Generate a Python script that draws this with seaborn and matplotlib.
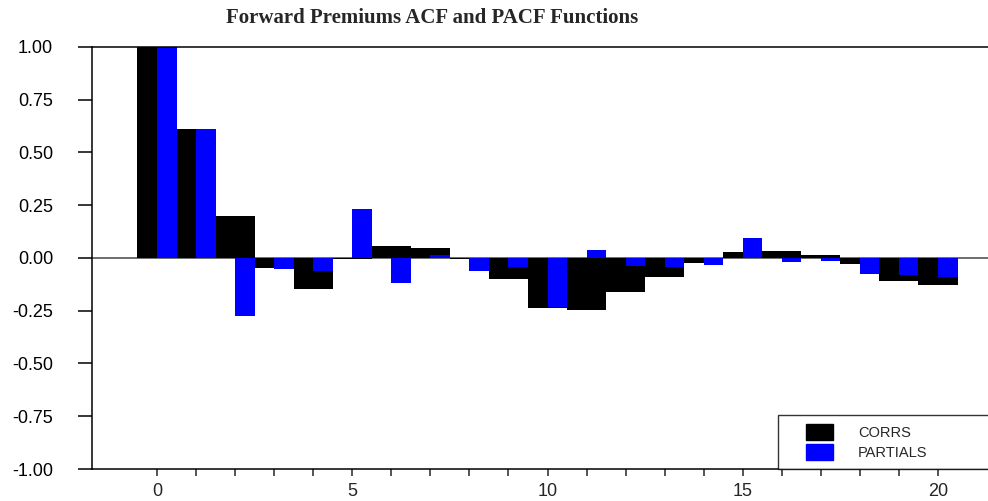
import numpy as np
import pandas as pd
import matplotlib
matplotlib.use("Agg")
import matplotlib.pyplot as plt
import seaborn as sns
from matplotlib.patches import Patch, Rectangle
from matplotlib.legend_handler import HandlerPatch

# lags and correlation values
lags = list(range(21))
corrs = [1.00, 0.61, 0.20, -0.047, -0.147, -0.005, 0.055, 0.047, -0.005, -0.100,
         -0.237, -0.246, -0.161, -0.090, -0.024, 0.028, 0.033, 0.014, -0.028,
         -0.109, -0.128]
partials = [1.00, 0.61, -0.275, -0.052, -0.062, 0.232, -0.120, 0.014, -0.062,
            -0.042, -0.232, 0.038, -0.038, -0.042, -0.033, 0.095, -0.019,
            -0.014, -0.076, -0.081, -0.090]
y_ticks = [1.00, 0.75, 0.50, 0.25, 0.00, -0.25, -0.50, -0.75, -1.00]
x_ticks = [0, 5, 10, 15, 20]

sns.set_style("ticks")
plt.rcParams["font.family"] = ["Liberation Sans", "DejaVu Sans"]

df_corr = pd.DataFrame({"lag": lags, "value": corrs})
# partial bars sit in the right half of each lag slot
df_part = pd.DataFrame({"lag": np.array(lags) + 0.25, "value": partials})

fig = plt.figure(figsize=(9.88, 5.01), dpi=100)
ax = fig.add_axes([92 / 988, 1 - 469 / 501, 1 - 92 / 988, (469 - 47) / 501])

sns.barplot(data=df_corr, x="lag", y="value", native_scale=True, width=1.0,
            color="black", saturation=1, linewidth=0, ax=ax, errorbar=None)
sns.barplot(data=df_part, x="lag", y="value", native_scale=True, width=0.5,
            color="#0000ff", saturation=1, linewidth=0, ax=ax, errorbar=None)

ax.axhline(0, color="#555555", lw=1.2, zorder=0.5)

ax.set_xlim(-1.665, 21.28)
ax.set_ylim(-1.0, 1.0)
ax.set_xticks(lags, minor=True)
ax.set_xticks(x_ticks)
ax.set_xticklabels([str(t) for t in x_ticks])
ax.set_yticks(y_ticks)
ax.set_yticklabels([f"{t:.2f}" for t in y_ticks])
ax.set_xlabel("")
ax.set_ylabel("")

ax.tick_params(axis="y", length=10, width=1.1, pad=18, labelsize=13, colors="black")
ax.tick_params(axis="x", which="both", length=5, width=1.1, pad=5, labelsize=13)
for side in ["left", "top", "bottom"]:
    ax.spines[side].set_linewidth(1.1)
    ax.spines[side].set_color("black")
ax.spines["right"].set_visible(False)


def right_square(legend, orig_handle, xdescent, ydescent, width, height, fontsize):
    w = 1.85 * fontsize
    return Rectangle((-xdescent + width - w, -ydescent), w, height)


handles = [Patch(facecolor="black", edgecolor="black", label="CORRS"),
           Patch(facecolor="#0000ff", edgecolor="#0000ff", label="PARTIALS")]
leg = ax.legend(handles=handles, loc="lower left",
                bbox_to_anchor=(778 / 988, 32 / 501, 0.3, 58 / 501),
                bbox_transform=fig.transFigure, mode="expand",
                frameon=True, fancybox=False, edgecolor="black",
                fontsize=10.5, handlelength=3.2, handleheight=1.3,
                handletextpad=1.7, borderpad=0.6, labelspacing=0.3,
                borderaxespad=0,
                handler_map={Patch: HandlerPatch(patch_func=right_square)})
leg.get_frame().set_linewidth(1.0)

fig.text(432 / 988, 1 - 18 / 501, "Forward Premiums ACF and PACF Functions",
         ha="center", va="center", fontsize=15, fontweight="bold",
         family=["Liberation Serif", "DejaVu Serif"])

fig.savefig("out.png", dpi=100)
